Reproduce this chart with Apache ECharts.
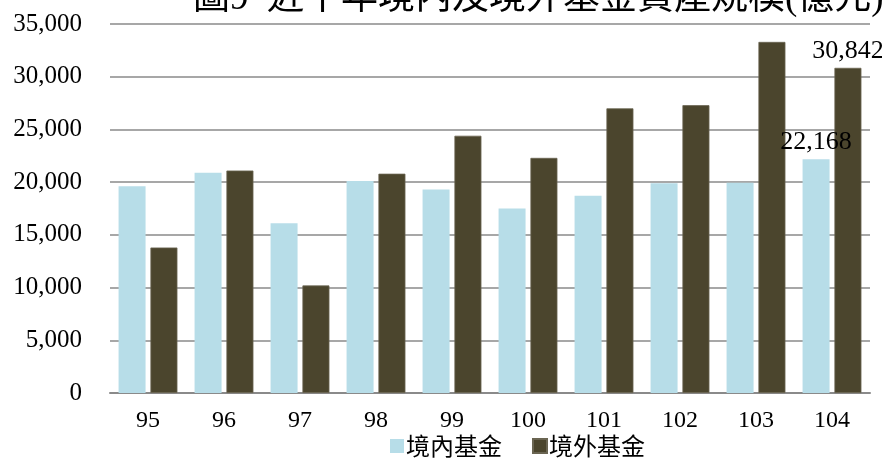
<!DOCTYPE html>
<html>
<head>
<meta charset="utf-8">
<script src="https://cdn.jsdelivr.net/npm/echarts@6/dist/echarts.min.js"></script>
<style>
html,body{margin:0;padding:0;background:#fff;}
#chart{width:882px;height:459px;}
</style>
</head>
<body>
<div id="chart"></div>
<script>
const titleText = '圖9  近十年境內及境外基金資產規模(億元)';
const categories = ['95','96','97','98','99','100','101','102','103','104'];
const seriesNames = ['境內基金','境外基金'];
const domestic = [19600, 20900, 16100, 20100, 19300, 17500, 18700, 19900, 19950, 22168];
const offshore = [13800, 21100, 10200, 20800, 24400, 22300, 27000, 27300, 33300, 30842];
const yTicks = [0, 5000, 10000, 15000, 20000, 25000, 30000, 35000];
const labeledIndex = 9;

const serif = 'Liberation Serif, "Times New Roman", "Noto Sans CJK TC", serif';
const fmt = v => v.toLocaleString('en-US');

function withLabel(arr) {
  return arr.map((v, i) => i === labeledIndex
    ? { value: v, label: { show: true, position: 'top', distance: 4, formatter: p => fmt(p.value), fontFamily: serif, fontSize: 26, color: '#000' } }
    : v);
}

const chart = echarts.init(document.getElementById('chart'));
chart.setOption({
  animation: false,
  backgroundColor: '#fff',
  title: {
    text: titleText,
    left: 188,
    top: -24,
    textStyle: { fontFamily: serif, fontSize: 37, fontWeight: 'normal', color: '#000' }
  },
  legend: {
    data: seriesNames,
    top: 434,
    left: 390,
    padding: 0,
    itemWidth: 14,
    itemHeight: 14,
    itemGap: 30,
    icon: 'rect',
    textStyle: { fontFamily: '"Noto Sans CJK TC", serif', fontSize: 24, color: '#000', padding: [0, 0, 0, -3] }
  },
  grid: { left: 110, right: 12, top: 24, bottom: 66, containLabel: false },
  xAxis: {
    type: 'category',
    data: categories,
    axisTick: { show: false },
    axisLine: { lineStyle: { color: '#8a8a8a', width: 2 } },
    axisLabel: { fontFamily: serif, fontSize: 24, color: '#000', margin: 16 }
  },
  yAxis: {
    type: 'value',
    min: yTicks[0],
    max: yTicks[yTicks.length - 1],
    interval: yTicks[1] - yTicks[0],
    axisLine: { show: false },
    axisTick: { show: false },
    splitLine: { lineStyle: { color: '#8a8a8a', width: 1.5 } },
    axisLabel: { fontFamily: serif, fontSize: 25, color: '#000', margin: 28, formatter: v => fmt(v) }
  },
  series: [
    {
      name: seriesNames[0],
      type: 'bar',
      data: withLabel(domestic),
      barWidth: 27,
      barGap: '18%',
      itemStyle: { color: '#B7DDE8' },
      z: 2
    },
    {
      name: seriesNames[1],
      type: 'bar',
      data: withLabel(offshore),
      barWidth: 27,
      barGap: '18%',
      itemStyle: { color: '#4B452D', borderColor: '#6a6552', borderWidth: 0.8 },
      z: 2
    }
  ]
});
</script>
</body>
</html>
